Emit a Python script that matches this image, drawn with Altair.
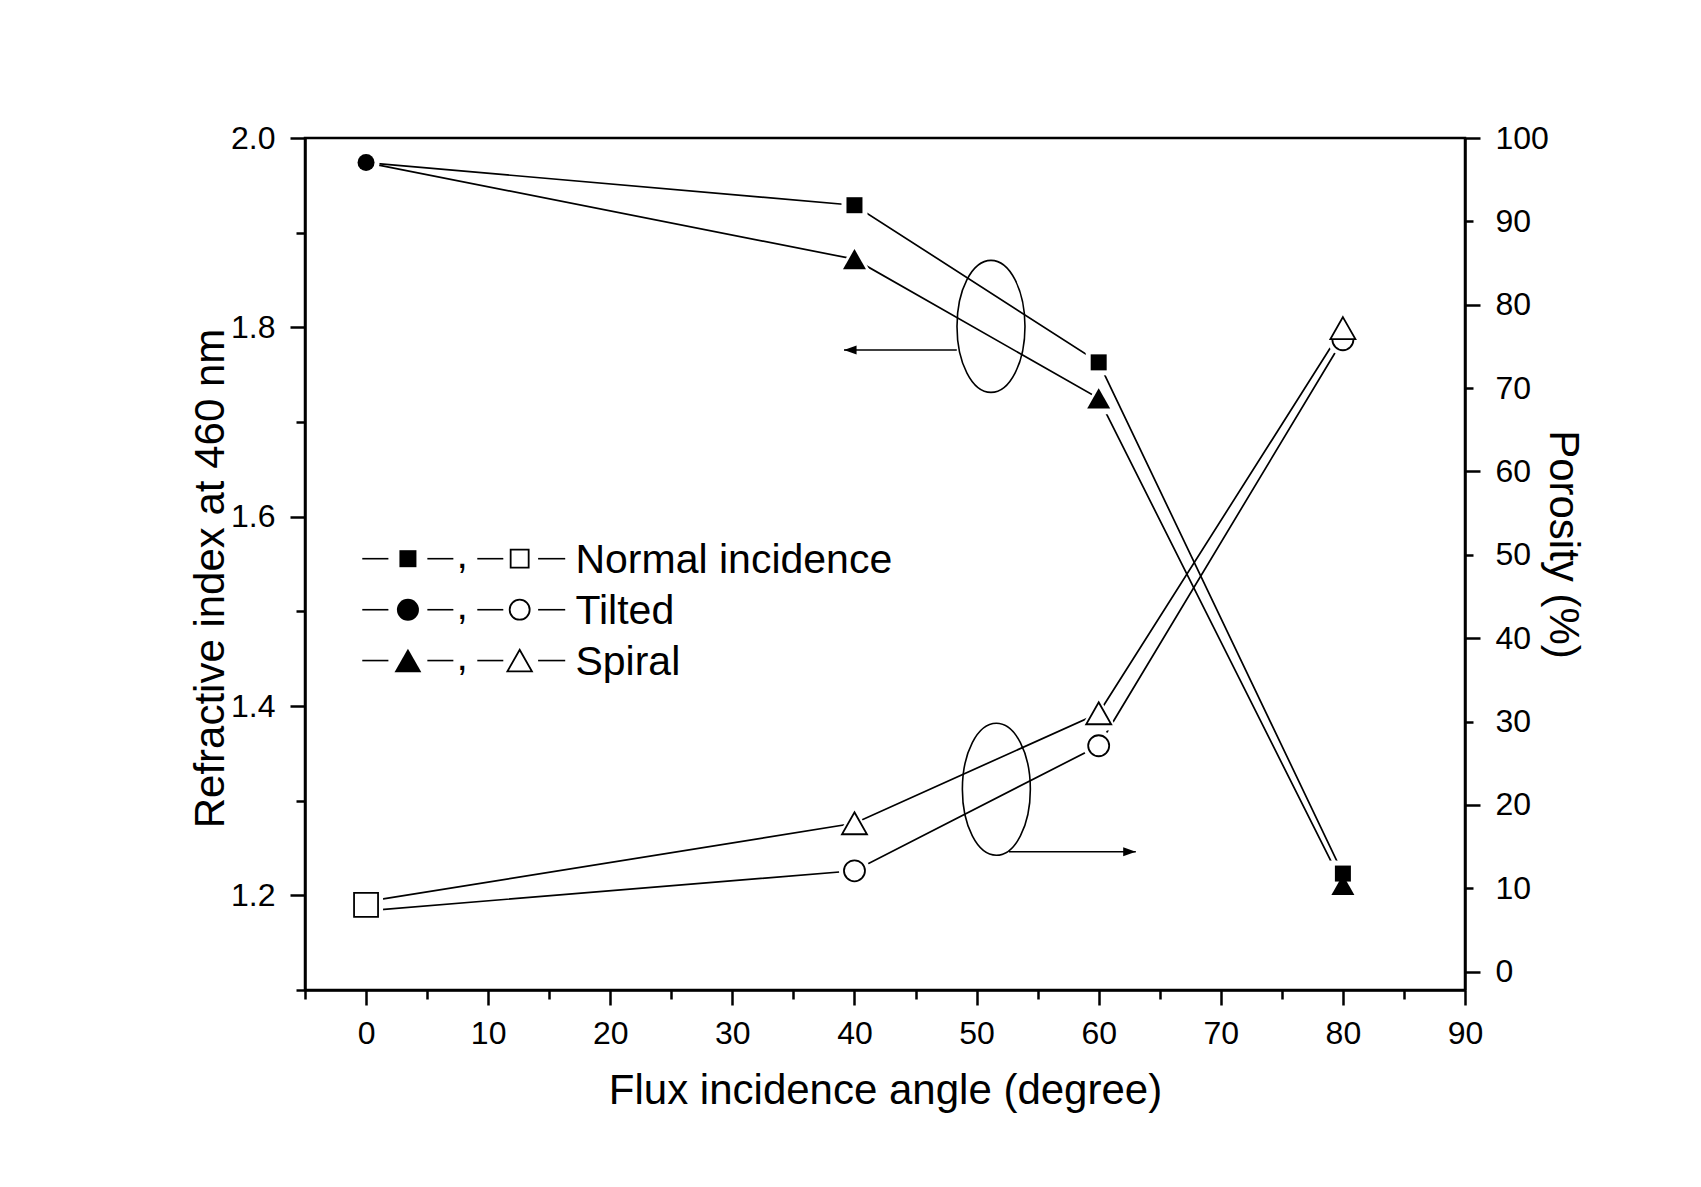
import altair as alt
import pandas as pd

# ---------------- data ----------------
series_names = ["Normal incidence", "Tilted", "Spiral"]
angles_later = [40, 60, 80]

# Refractive index at 460 nm (left axis, filled symbols)
ri_tilted_angle = [0]
ri_tilted = [1.974]
ri_normal = [1.929, 1.763, 1.223]
ri_spiral = [1.872, 1.725, 1.211]

# Porosity (%) (right axis, open symbols)
por_normal_angle = [0]
por_normal = [8.0]
por_tilted = [12.1, 27.1, 75.8]
por_spiral = [17.8, 31.0, 77.2]
por_start_tilted = [7.3]
por_start_spiral = [8.4]

# axis ticks
x_ticks = [-5, 0, 5, 10, 15, 20, 25, 30, 35, 40, 45, 50, 55, 60, 65, 70, 75, 80, 85, 90]
ri_ticks = [1.1, 1.2, 1.3, 1.4, 1.5, 1.6, 1.7, 1.8, 1.9, 2.0]
por_ticks = [0, 10, 20, 30, 40, 50, 60, 70, 80, 90, 100]

# annotations (ellipses + arrows), in data units
ellipse_angle = [51.18, 51.62]
ellipse_ri = [1.801, 1.312]
arrow_from = [48.38, 52.65]
arrow_to = [39.14, 63.04]
arrow_ri = [1.776, 1.246]
arrow_dir = ["left", "right"]

# legend rows
legend_labels = ["Normal incidence", "Tilted", "Spiral"]
legend_ri = [1.5556, 1.5017, 1.448]

# ---------------- tables ----------------
ri_lines = pd.DataFrame({
    "angle": ri_tilted_angle + angles_later + ri_tilted_angle + angles_later,
    "ri": ri_tilted + ri_normal + ri_tilted + ri_spiral,
    "series": ["Normal incidence"] * 4 + ["Spiral"] * 4,
})
ri_points = pd.DataFrame({
    "angle": ri_tilted_angle + angles_later + angles_later,
    "ri": ri_tilted + ri_normal + ri_spiral,
    "series": ["Tilted"] + ["Normal incidence"] * 3 + ["Spiral"] * 3,
})
por_lines = pd.DataFrame({
    "angle": [0] + angles_later + [0] + angles_later,
    "por": por_start_tilted + por_tilted + por_start_spiral + por_spiral,
    "series": ["Tilted"] * 4 + ["Spiral"] * 4,
})
por_points = pd.DataFrame({
    "angle": por_normal_angle + angles_later + angles_later,
    "por": por_normal + por_tilted + por_spiral,
    "series": ["Normal incidence"] + ["Tilted"] * 3 + ["Spiral"] * 3,
})
ell_df = pd.DataFrame({"angle": ellipse_angle, "ri": ellipse_ri})
arr_df = pd.DataFrame({"angle": arrow_from, "angle2": arrow_to, "ri": arrow_ri})
head_df = pd.DataFrame({"angle": arrow_to, "ri": arrow_ri, "dir": arrow_dir})

# legend layout (in axis units)
LEG_SEGS = [(-0.31, 1.83), (5.02, 7.15), (9.11, 11.24), (14.09, 16.31)]
LEG_FILLED_X = 3.43
LEG_COMMA_X = 7.87
LEG_OPEN_X = 12.58
LEG_TEXT_X = 17.15

leg_seg_df = pd.DataFrame({
    "angle": [a for _ in legend_ri for a, b in LEG_SEGS],
    "angle2": [b for _ in legend_ri for a, b in LEG_SEGS],
    "ri": [r for r in legend_ri for _ in LEG_SEGS],
})
leg_df = pd.DataFrame({"series": series_names, "label": legend_labels, "ri": legend_ri})

# ---------------- styling ----------------
FONT = "Liberation Sans"
TRI = "M0,-0.88 L1,0.88 L-1,0.88 Z"
ELLIPSE = ("M0,-1 C0.2844,-1 0.515,-0.5523 0.515,0 C0.515,0.5523 0.2844,1 0,1 "
           "C-0.2844,1 -0.515,0.5523 -0.515,0 C-0.515,-0.5523 -0.2844,-1 0,-1 Z")
HEAD_LEFT = "M0,0 L1.4,-0.5 L1.4,0.5 Z"
HEAD_RIGHT = "M0,0 L-1.4,-0.5 L-1.4,0.5 Z"
SHAPES = {"Normal incidence": "square", "Tilted": "circle", "Spiral": TRI}

RI_SIZE = {"Normal incidence": 256, "Tilted": 289, "Spiral": 529}
RI_HALO = {"Normal incidence": 676, "Tilted": 729, "Spiral": 1296}
POR_SIZE = {"Normal incidence": 576, "Tilted": 441, "Spiral": 625}
POR_HALO = {"Normal incidence": 1156, "Tilted": 961, "Spiral": 1521}
LEG_FILLED_SIZE = {"Normal incidence": 289, "Tilted": 484, "Spiral": 720}
LEG_OPEN_SIZE = {"Normal incidence": 324, "Tilted": 400, "Spiral": 600}

common_axis = dict(
    grid=False, labelFont=FONT, labelFontSize=32, labelColor="black",
    titleFont=FONT, titleFontSize=42, titleFontWeight="normal", titleColor="black",
    domainColor="black", domainWidth=2.5, tickColor="black", tickWidth=2.5,
    labelOverlap=False, labelFlush=False,
)

x_axis = alt.Axis(
    orient="bottom", values=x_ticks,
    labelExpr="datum.value >= 0 && datum.value % 10 == 0 ? datum.label : ''",
    tickSize={"condition": {"test": "datum.value % 10 == 0", "value": 15}, "value": 9},
    labelPadding=13,
    title="Flux incidence angle (degree)", titleX=580, titleY=113,
    titleBaseline="alphabetic", titleAlign="center",
    **common_axis,
)
yl_axis = alt.Axis(
    orient="left", values=ri_ticks,
    labelExpr="round(datum.value * 10) % 2 == 0 ? format(datum.value, '.1f') : ''",
    tickSize={"condition": {"test": "round(datum.value * 10) % 2 == 0", "value": 15}, "value": 9},
    labelPadding=15,
    title="Refractive index at 460 nm", titleAngle=-90, titleX=-82, titleY=440,
    titleBaseline="alphabetic", titleAlign="center",
    **common_axis,
)
yr_axis = alt.Axis(
    orient="right", values=por_ticks, format="d",
    tickSize={"condition": {"test": "datum.value % 20 == 0", "value": 15}, "value": 8},
    labelPadding={"condition": {"test": "datum.value % 20 == 0", "value": 15}, "value": 22},
    title="Porosity (%)", titleAngle=90, titleX=84, titleY=406,
    titleBaseline="alphabetic", titleAlign="center",
    **common_axis,
)

X = alt.X("angle:Q", scale=alt.Scale(domain=[-5, 90], nice=False, zero=False), axis=x_axis)
YL = alt.Y("ri:Q", scale=alt.Scale(domain=[1.1, 2.0], nice=False, zero=False), axis=yl_axis)
YR = alt.Y("por:Q", scale=alt.Scale(domain=[-2.2, 100], nice=False, zero=False), axis=yr_axis)

LW = 1.7

# ---------------- left-axis layers ----------------
left_layers = [
    alt.Chart(ri_lines).mark_line(color="black", strokeWidth=LW).encode(x=X, y=YL, detail="series:N")
]
for s in series_names:
    left_layers.append(
        alt.Chart(ri_points).transform_filter(alt.datum.series == s)
        .mark_point(shape=SHAPES[s], size=RI_HALO[s], filled=True, color="white", opacity=1)
        .encode(x=X, y=YL)
    )
for s in series_names:
    left_layers.append(
        alt.Chart(ri_points).transform_filter(alt.datum.series == s)
        .mark_point(shape=SHAPES[s], size=RI_SIZE[s], filled=True, color="black", opacity=1)
        .encode(x=X, y=YL)
    )

# ellipses and arrows
left_layers.append(
    alt.Chart(ell_df).mark_point(shape=ELLIPSE, size=17424, filled=False, color="black",
                                 strokeWidth=1.6, opacity=1).encode(x=X, y=YL)
)
left_layers.append(
    alt.Chart(arr_df).mark_rule(color="black", strokeWidth=1.6).encode(x=X, x2="angle2:Q", y=YL)
)
left_layers.append(
    alt.Chart(head_df).transform_filter(alt.datum.dir == "left")
    .mark_point(shape=HEAD_LEFT, size=324, filled=True, color="black", opacity=1).encode(x=X, y=YL)
)
left_layers.append(
    alt.Chart(head_df).transform_filter(alt.datum.dir == "right")
    .mark_point(shape=HEAD_RIGHT, size=324, filled=True, color="black", opacity=1).encode(x=X, y=YL)
)

# legend
left_layers.append(
    alt.Chart(leg_seg_df).mark_rule(color="black", strokeWidth=1.6).encode(x=X, x2="angle2:Q", y=YL)
)
for s in series_names:
    left_layers.append(
        alt.Chart(leg_df).transform_filter(alt.datum.series == s)
        .transform_calculate(angle=str(LEG_FILLED_X))
        .mark_point(shape=SHAPES[s], size=LEG_FILLED_SIZE[s], filled=True, color="black", opacity=1)
        .encode(x=X, y=YL)
    )
    left_layers.append(
        alt.Chart(leg_df).transform_filter(alt.datum.series == s)
        .transform_calculate(angle=str(LEG_OPEN_X))
        .mark_point(shape=SHAPES[s], size=LEG_OPEN_SIZE[s], filled=True, fill="white",
                    stroke="black", strokeWidth=1.8, opacity=1)
        .encode(x=X, y=YL)
    )
left_layers.append(
    alt.Chart(leg_df).transform_calculate(angle=str(LEG_COMMA_X))
    .mark_text(text=",", font=FONT, fontSize=41, align="center", baseline="alphabetic", dy=9,
               color="black")
    .encode(x=X, y=YL)
)
left_layers.append(
    alt.Chart(leg_df).transform_calculate(angle=str(LEG_TEXT_X))
    .mark_text(font=FONT, fontSize=41, align="left", baseline="middle", dy=2, color="black")
    .encode(x=X, y=YL, text="label:N")
)

# ---------------- right-axis layers ----------------
right_layers = [
    alt.Chart(por_lines).mark_line(color="black", strokeWidth=LW).encode(x=X, y=YR, detail="series:N")
]
for s in series_names:
    right_layers.append(
        alt.Chart(por_points).transform_filter(alt.datum.series == s)
        .mark_point(shape=SHAPES[s], size=POR_HALO[s], filled=True, color="white", opacity=1)
        .encode(x=X, y=YR)
    )
for s in series_names:
    right_layers.append(
        alt.Chart(por_points).transform_filter(alt.datum.series == s)
        .mark_point(shape=SHAPES[s], size=POR_SIZE[s], filled=True, fill="white",
                    stroke="black", strokeWidth=1.8, opacity=1)
        .encode(x=X, y=YR)
    )

left = alt.layer(*left_layers)
right = alt.layer(*right_layers)

chart = (
    alt.layer(left, right)
    .resolve_scale(y="independent")
    .properties(
        width=1160, height=852,
        autosize=alt.AutoSizeParams(type="none"),
        padding={"left": 305, "top": 138, "right": 236, "bottom": 197},
        background="white",
    )
    .configure(font=FONT)
    .configure_view(stroke="black", strokeWidth=2.5)
)

chart.save("out.html", embed_options={"renderer": "svg", "actions": False})
